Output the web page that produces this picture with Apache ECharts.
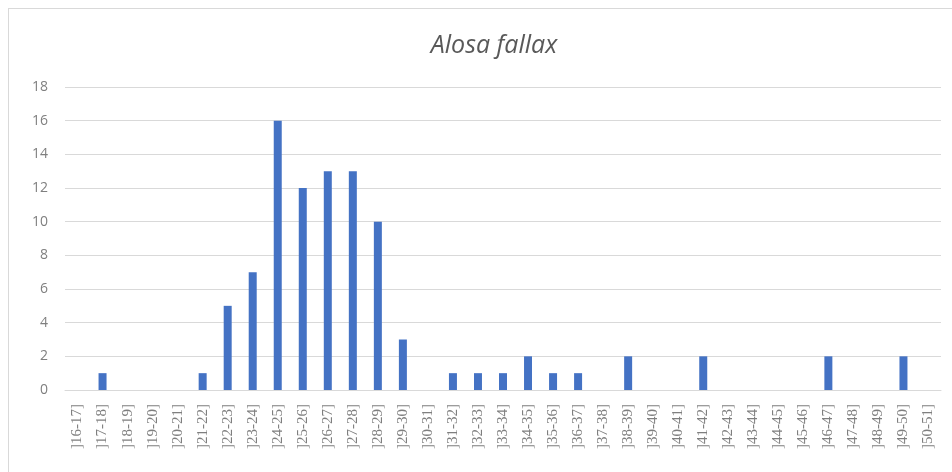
<!DOCTYPE html>
<html>
<head>
<meta charset="utf-8">
<script src="https://cdn.jsdelivr.net/npm/echarts@6/dist/echarts.min.js"></script>
<style>
	html, body { margin: 0; padding: 0; background: #fff; }
	#frame { position: absolute; left: 8px; top: 8px; width: 960px; height: 470px; border: 1px solid #d9d9d9; box-sizing: border-box; }
	#chart { position: absolute; left: 0; top: 0; width: 952px; height: 472px; }
</style>
</head>
<body>
<div id="frame"></div>
<div id="chart"></div>
<script>
	// classes de taille
	var categories = [];
	for (var i = 16; i <= 50; i++) {
		categories.push(']' + i + '-' + (i + 1) + ']');
	}
	var counts = [0, 1, 0, 0, 0, 1, 5, 7, 16, 12, 13, 13, 10, 3, 0, 1, 1, 1, 2, 1, 1, 0, 2, 0, 0, 2, 0, 0, 0, 0, 2, 0, 0, 2, 0];
	var yTicks = [0, 2, 4, 6, 8, 10, 12, 14, 16, 18];

	var chart = echarts.init(document.getElementById('chart'));
	var option = {
		animation: false,
		title: {
			text: 'Alosa fallax',
			left: 489,
			textAlign: 'center',
			top: 28,
			textStyle: {
				color: '#595959',
				fontStyle: 'italic',
				fontWeight: 'normal',
				fontSize: 25,
				fontFamily: 'Open Sans'
			}
		},
		grid: {
			left: 65,
			right: 11,
			top: 87,
			bottom: 82
		},
		xAxis: {
			type: 'category',
			data: categories,
			axisLine: { lineStyle: { color: '#d9d9d9' } },
			axisTick: { show: false },
			axisLabel: {
				rotate: 90,
				interval: 0,
				margin: 14,
				color: '#7f7f7f',
				fontSize: 15,
				fontFamily: 'Liberation Serif'
			}
		},
		yAxis: {
			type: 'value',
			min: yTicks[0],
			max: yTicks[yTicks.length - 1],
			interval: 2,
			axisLine: { show: false },
			axisTick: { show: false },
			splitLine: { lineStyle: { color: '#d9d9d9' } },
			axisLabel: {
				margin: 17,
				color: '#7f7f7f',
				fontSize: 14,
				fontFamily: 'Open Sans'
			}
		},
		series: [{
			type: 'bar',
			data: counts,
			barWidth: 8,
			itemStyle: { color: '#4472c4' }
		}]
	};
	chart.setOption(option);
</script>
</body>
</html>
